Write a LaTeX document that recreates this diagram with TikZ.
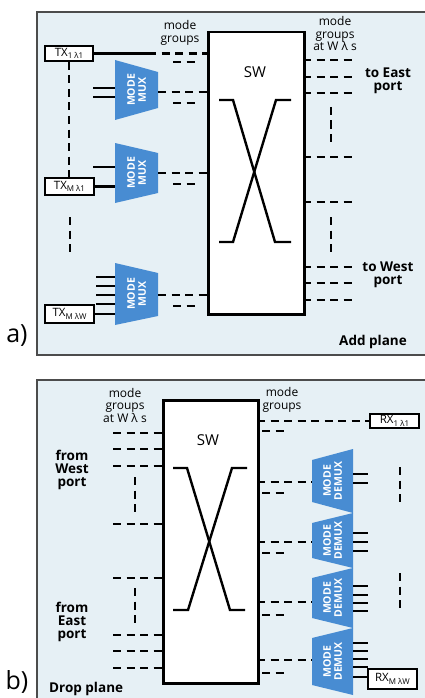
\documentclass[tikz,border=0pt]{standalone}
\usepackage{fontspec}
\setmainfont{Open Sans}
\definecolor{bgc}{RGB}{230,240,245}
\definecolor{muxblue}{RGB}{72,140,210}
\newcommand\iosub[1]{\raisebox{-0.45ex}{\fontsize{8}{8}\selectfont #1}}
\begin{document}
\begin{tikzpicture}[x=1pt,y=-1pt,
  dl/.style={line width=2.4pt, dash pattern=on 8pt off 5.5pt},
  sl/.style={line width=2.4pt},
  iobox/.style={draw, line width=2pt, fill=white, inner sep=0pt, font=\fontsize{11.5}{12}\selectfont},
  swbox/.style={draw, line width=2.5pt, fill=white, inner sep=0pt, anchor=north west},
  lbl/.style={font=\fontsize{12}{12.5}\selectfont, align=center, inner sep=0pt},
  blbl/.style={font=\bfseries\fontsize{13.5}{13}\selectfont, align=center, inner sep=0pt},
  swlbl/.style={font=\fontsize{15}{15}\selectfont, inner sep=0pt},
  muxtxt/.style={text=white, font=\bfseries\fontsize{10.5}{11}\selectfont, align=center, rotate=90, inner sep=0pt},
  muxfill/.style={fill=muxblue},
  panel/.style={draw=gray!60!black, line width=1.2pt, fill=bgc},
  plabel/.style={font=\fontsize{25}{25}\selectfont, inner sep=0pt}
]
\useasboundingbox (0,0) rectangle (425,698);
\fill[white] (0,0) rectangle (425,698);

% ================= panel a =================
\draw[panel] (37,12) rectangle (432,355);
\node[plabel] (la) at (17,336) {a)};
\node[swbox, minimum width=96, minimum height=282] (swa) at (207,31) {};
\node[swlbl] (swat) at (255,72) {SW};
\draw[sl] (219,100) -- (233,100) -- (275,242) -- (291,242);
\draw[sl] (291,100) -- (276,100) -- (233,242) -- (219,242);

\node[lbl] (mga) at (180,33) {mode\\groups};
\node[lbl] (mgwa) at (335,34) {mode\\groups\\at W λ s};
\node[blbl] (east) at (388,81) {to East\\port};
\node[blbl] (west) at (388,275) {to West\\port};
\node[blbl] (addp) at (373,342) {Add plane};

% transmitters
\node[iobox, minimum width=48, minimum height=15] (tx1) at (69,53.5) {TX\iosub{1 λ1}};
\node[iobox, minimum width=49, minimum height=17] (txm1) at (69.5,186.5) {TX\iosub{M λ1}};
\node[iobox, minimum width=49, minimum height=18] (txmw) at (69.5,314) {TX\iosub{M λW}};
\coordinate (va1) at (70,217);
\coordinate (va2) at (70,257);
\draw[dl] (tx1.south) -- (tx1.south |- txm1.north);
\draw[dl] (va1) -- (va2);

% MUX 1
\fill[muxfill] (115,60) -- (158,72) -- (158,108) -- (115,120) -- cycle;
\node[muxtxt] (mux1) at (136.5,90) {MODE\\MUX};
\draw[sl] (93,88) -- (115,88);
\draw[sl] (93,97) -- (115,97);
\draw[sl] (tx1.east) -- (148,53.5);
\draw[dl] (148,53.5) -- (207,53.5);
\draw[dl] (173,62) -- (197,62);
\draw[dl] (158,92) -- (207,92);
\draw[dl] (173,103) -- (197,103);

% MUX 2
\fill[muxfill] (115,143) -- (158,153) -- (158,193) -- (115,203) -- cycle;
\node[muxtxt] (mux2) at (136.5,173) {MODE\\MUX};
\draw[sl] (93,167) -- (115,167);
\draw[sl] (txm1.east) -- (115,186.5);
\draw[dl] (158,173) -- (207,173);
\draw[dl] (173,184) -- (197,184);

% MUX 3
\fill[muxfill] (115,263) -- (158,273) -- (158,316) -- (115,325) -- cycle;
\node[muxtxt] (mux3) at (136.5,294) {MODE\\MUX};
\foreach \y in {277,286,295,304}{\draw[sl] (96,\y) -- (115,\y);}
\draw[sl] (txmw.east) -- (115,314);
\draw[dl] (158,295) -- (207,295);
\draw[dl] (173,306) -- (197,306);

% right side outputs
\foreach \y in {60,77,93,157,202,267,283,300}{\draw[dl] (303,\y) -- (352,\y);}
\draw[dl] (331,107) -- (331,147);
\draw[dl] (331,217) -- (331,257);

% ================= panel b =================
\draw[panel] (37,380) rectangle (432,702);
\node[plabel] (lb) at (17,682) {b)};
\node[swbox, minimum width=95, minimum height=283] (swb) at (162,399) {};
\node[swlbl] (swbt) at (208,440) {SW};
\draw[sl] (173,468) -- (187,468) -- (230,610) -- (245,610);
\draw[sl] (247,468) -- (232,468) -- (188,610) -- (173,610);

\node[lbl] (mgwb) at (125,405) {mode\\groups\\at W λ s};
\node[lbl] (mgb) at (282,400) {mode\\groups};
\node[blbl] (fwest) at (72,470) {from\\West\\port};
\node[blbl] (feast) at (72,622) {from\\East\\port};
\node[blbl, anchor=west] (dropp) at (49,689) {Drop plane};

\foreach \y in {433,449,466,524,578,635,651,668}{\draw[dl] (113,\y) -- (162,\y);}
\draw[dl] (135,477) -- (135,517);
\draw[dl] (135,588) -- (135,625);

% receivers
\node[iobox, minimum width=49, minimum height=14] (rx1) at (394.5,421) {RX\iosub{1 λ1}};
\node[iobox, minimum width=49, minimum height=20] (rxmw) at (392.5,679) {RX\iosub{M λW}};
\draw[dl] (257,421) -- (rx1.west);
\draw[dl] (262,431) -- (287,431);

% DEMUX 1
\fill[muxfill] (312,460) -- (353,449) -- (353,513) -- (312,502) -- cycle;
\node[muxtxt] (dm1) at (332.5,481) {MODE\\DEMUX};
\draw[dl] (257,482) -- (312,482);
\draw[dl] (262,493) -- (287,493);
\foreach \y in {474,483}{\draw[sl] (353,\y) -- (368,\y);}

% DEMUX 2
\fill[muxfill] (312,523) -- (353,513) -- (353,568) -- (312,558) -- cycle;
\node[muxtxt] (dm2) at (332.5,540.5) {MODE\\DEMUX};
\draw[dl] (257,542) -- (312,542);
\draw[dl] (262,553) -- (287,553);
\foreach \y in {533,542,551}{\draw[sl] (353,\y) -- (368,\y);}

% DEMUX 3
\fill[muxfill] (312,578) -- (353,568) -- (353,628) -- (312,618) -- cycle;
\node[muxtxt] (dm3) at (332.5,598) {MODE\\DEMUX};
\draw[dl] (257,602) -- (312,602);
\draw[dl] (262,615) -- (287,615);
\foreach \y in {586,595,603,611}{\draw[sl] (353,\y) -- (368,\y);}

% DEMUX 4
\fill[muxfill] (312,638) -- (353,628) -- (353,695) -- (312,685) -- cycle;
\node[muxtxt] (dm4) at (332.5,661.5) {MODE\\DEMUX};
\draw[dl] (257,660) -- (312,660);
\draw[dl] (262,673) -- (287,673);
\foreach \y in {643,651,659,667}{\draw[sl] (353,\y) -- (368,\y);}
\draw[sl] (353,677) -- (rxmw.west |- 0,677);

\draw[dl] (400,467) -- (400,505);
\draw[dl] (400,573) -- (400,612);
\end{tikzpicture}
\end{document}
